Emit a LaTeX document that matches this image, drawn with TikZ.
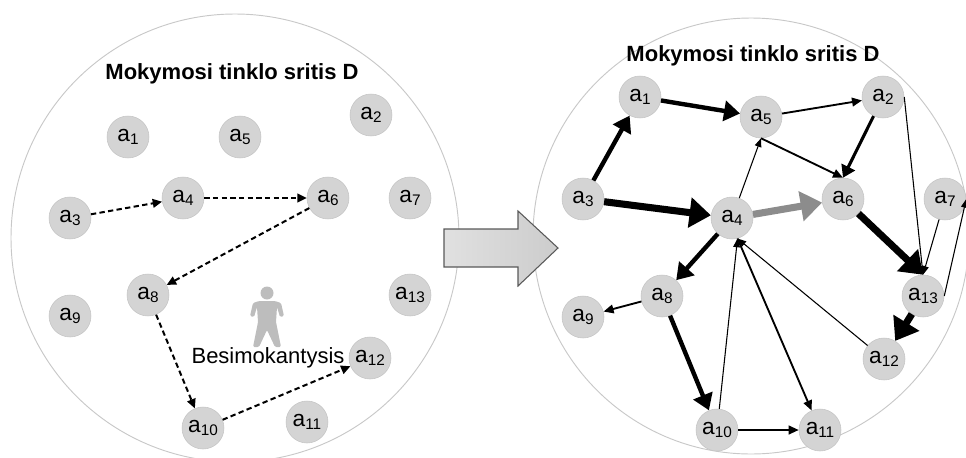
\documentclass[tikz,border=0pt]{standalone}
\usepackage{fontspec}
\setmainfont{Liberation Sans}
\usetikzlibrary{arrows.meta}
\definecolor{ringgray}{HTML}{C8C8C8}
\definecolor{agentfill}{HTML}{D4D4D4}
\definecolor{agentedge}{HTML}{C4C4C4}
\definecolor{learner}{HTML}{BDBDBD}
\definecolor{bestpath}{HTML}{8C8C8C}
\newcommand{\agent}[1]{a\raisebox{-2.5pt}{\fontsize{11.5}{12}\selectfont #1}}

\begin{document}
\begin{tikzpicture}[x=0.75pt, y=-0.75pt,
  ag/.style={circle, fill=agentfill, draw=agentedge, minimum size=31.5pt, inner sep=0pt, font=\fontsize{17}{18}\selectfont},
  ring/.style={draw=ringgray, line width=0.7pt},
  title/.style={font=\fontsize{16.5}{18}\selectfont\bfseries},
  walk/.style={dash pattern=on 4pt off 2.5pt, line width=1.5pt, -{Triangle[length=7pt,width=6.5pt]}},
  thin/.style={line width=0.8pt, -{Triangle[length=6.5pt,width=5pt]}},
  mid/.style={line width=1.4pt, -{Triangle[length=7.5pt,width=6.5pt]}},
  bold/.style={line width=2.3pt, -{Triangle[length=9pt,width=11pt]}},
  heavy/.style={line width=3.3pt, -{Triangle[length=12pt,width=15pt]}},
  huge/.style={line width=5.3pt, -{Triangle[length=16pt,width=22pt]}}]
\useasboundingbox (0,0) rectangle (966,457);
% the two regions
\draw[ring] (235,238) circle[radius=224];
\draw[ring] (751,236) circle[radius=218];
\node[title] (ltitle) at (232,74) {Mokymosi tinklo sritis D};
\node[title] (rtitle) at (753,56) {Mokymosi tinklo sritis D};

% left: learner's walk
\foreach \n/\x/\y in {1/128/137, 2/371/115, 3/70/218, 4/183/198, 5/240/137, 6/328/198, 7/410/198,
  8/148/295, 9/70/316, 10/203/428, 11/307/422, 12/370/358, 13/410/295}
  \node[ag] (L\n) at (\x,\y) {\agent{\n}};
\fill[learner] (267,293) circle[radius=6.5];
\fill[learner, rounded corners=1pt] (259,301) -- (275,301) -- (281,303) -- (284,316) -- (280,317) -- (277,307)
  -- (276,322) -- (281,347) -- (275,347) -- (267,330) -- (259,347) -- (253,347) -- (258,322)
  -- (257,307) -- (254,317) -- (250,316) -- (253,303) -- cycle;
\node[font=\fontsize{16.5}{18}\selectfont] (learner) at (268,358) {Besimokantysis};
\foreach \s/\t in {3/4, 4/6, 6/8, 8/10, 10/12}
  \draw[walk] (L\s) -- (L\t);

% transition
\draw[draw=black!65, left color=black!12, right color=black!20, line width=0.8pt]
  (444,229) -- (518,229) -- (518,211) -- (558,248) -- (518,286) -- (518,267) -- (444,267) -- cycle;

% right: learned network
\foreach \n/\x/\y in {1/640/97, 2/883/97, 3/583/199, 4/732/218, 5/761/117, 6/843/199, 7/945/199,
  8/662/296, 9/583/317, 10/717/430, 11/820/430, 12/884/359, 13/923/296}
  \node[ag] (R\n) at (\x,\y) {\agent{\n}};
\coordinate (R4s) at (R4.-75);
\coordinate (R5s) at (R5.south);
\coordinate (R6n) at (R6.north);
\coordinate (R13n) at (R13.north);
\draw[thin] (R4) -- (R5s);
\draw[thin] (R10) -- (R4s);
\draw[thin] (R12) -- (R4s);
\draw[thin] (R2.east) -- (R13n);
\draw[thin] (R7) -- (R13n);
\draw[thin] (R13.east) -- (R7.east);
\draw[mid] (R5) -- (R2);
\draw[mid] (R5s) -- (R6n);
\draw[mid] (R8) -- (R9);
\draw[mid] (R4s) -- (R11);
\draw[mid] (R10) -- (R11);
\draw[bold] (R2) -- (R6n);
\draw[heavy] (R3) -- (R1);
\draw[heavy] (R1) -- (R5);
\draw[heavy] (R4) -- (R8);
\draw[heavy] (R8) -- (R10);
\draw[huge] (R3) -- (R4);
\draw[huge] (R6) -- (R13n);
\draw[huge] (R13) -- (R12);
\draw[huge, bestpath] (R4) -- (R6);
\end{tikzpicture}
\end{document}
